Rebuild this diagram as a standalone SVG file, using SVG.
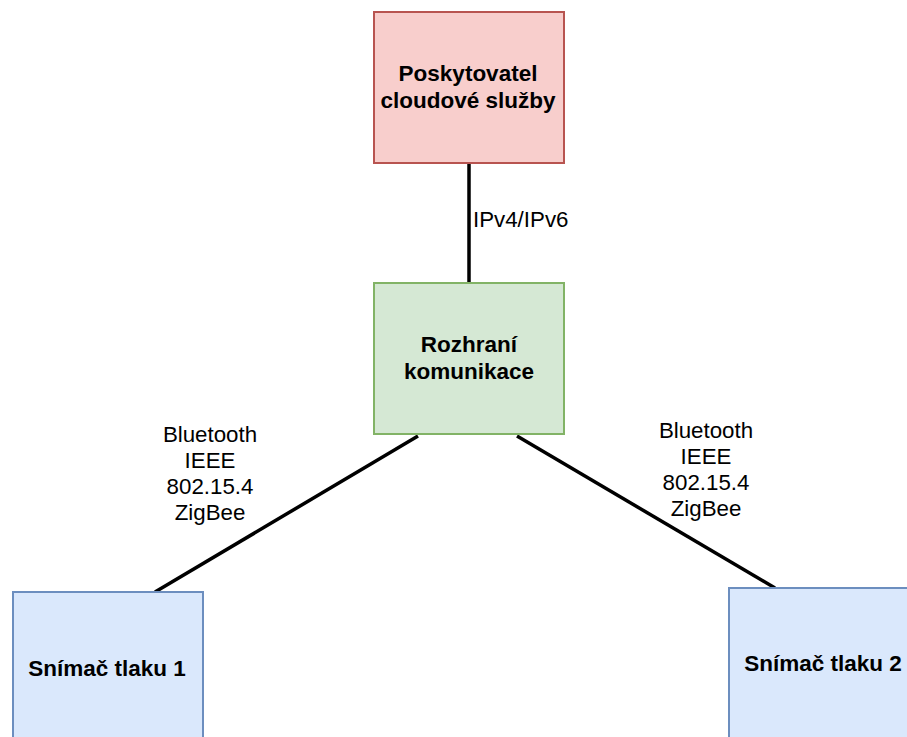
<svg xmlns="http://www.w3.org/2000/svg" width="907" height="737" viewBox="0 0 907 737">
  <style>
    .node { stroke-width: 2; }
    .cloud { fill: #f8cecc; stroke: #b85450; }
    .gate { fill: #d5e8d4; stroke: #82b366; }
    .sensor { fill: #dae8fc; stroke: #6c8ebf; }
    .title { font-family: "Liberation Sans", Arial, sans-serif; font-size: 22.5px; font-weight: bold; fill: #000; text-anchor: middle; }
    .label { font-family: "Liberation Sans", Arial, sans-serif; font-size: 22.3px; fill: #000; text-anchor: middle; }
    .link { stroke: #000; stroke-width: 3.5; fill: none; }
  </style>
  <rect width="907" height="737" fill="#ffffff"/>

  <g id="connectors">
    <line class="link" x1="469" y1="163" x2="469" y2="283"/>
    <line class="link" x1="418" y1="436" x2="155" y2="592"/>
    <line class="link" x1="517" y1="436" x2="775" y2="588"/>
    <text class="label" x="473" y="227" style="text-anchor:start">IPv4/IPv6</text>
    <text class="label" x="210" y="442">Bluetooth</text>
    <text class="label" x="210" y="468">IEEE</text>
    <text class="label" x="210" y="494">802.15.4</text>
    <text class="label" x="210" y="520">ZigBee</text>
    <text class="label" x="706" y="438">Bluetooth</text>
    <text class="label" x="706" y="464">IEEE</text>
    <text class="label" x="706" y="490">802.15.4</text>
    <text class="label" x="706" y="516">ZigBee</text>
  </g>

  <g id="cloud-provider">
    <rect class="node cloud" x="374" y="12" width="190" height="151"/>
    <text class="title" x="468" y="81">Poskytovatel</text>
    <text class="title" x="468" y="108">cloudové služby</text>
  </g>

  <g id="comm-interface">
    <rect class="node gate" x="374" y="283" width="190" height="151"/>
    <text class="title" x="469" y="352">Rozhraní</text>
    <text class="title" x="469" y="379">komunikace</text>
  </g>

  <g id="sensor-1">
    <rect class="node sensor" x="13" y="592" width="190" height="151"/>
    <text class="title" x="107" y="676">Snímač tlaku 1</text>
  </g>

  <g id="sensor-2">
    <rect class="node sensor" x="729" y="588" width="190" height="151"/>
    <text class="title" x="823" y="671">Snímač tlaku 2</text>
  </g>
</svg>
